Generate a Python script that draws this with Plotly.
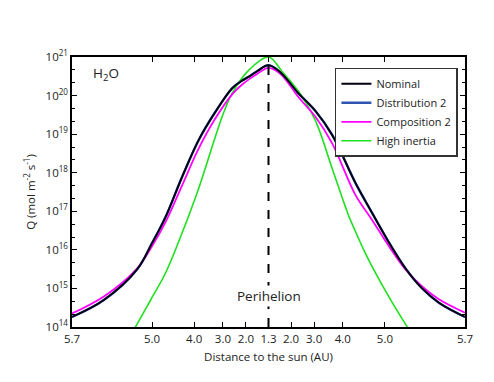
import numpy as np
import plotly.graph_objects as go

# orbit: perihelion / aphelion distance (AU)
q_peri = 1.3
q_aph = 5.7

# x = fraction of half orbit from perihelion (-1 = aphelion before, +1 = aphelion after)
phase_nominal = [-1.0, -0.838, -0.668, -0.592, -0.524, -0.439, -0.355, -0.270, -0.185, -0.140, -0.100, -0.058,
                 0.0, 0.061, 0.154, 0.239, 0.324, 0.443, 0.528, 0.612, 0.697, 0.782, 0.867, 1.0]
logq_nominal = [14.26, 14.70, 15.50, 16.18, 16.85, 17.90, 18.85, 19.58, 20.19, 20.37, 20.49, 20.63,
                20.79, 20.60, 20.05, 19.60, 18.98, 17.73, 16.95, 16.20, 15.52, 15.00, 14.63, 14.26]

# Distribution 2 lies on top of the nominal curve
phase_dist2 = list(phase_nominal)
logq_dist2 = list(logq_nominal)

phase_comp2 = [-1.0, -0.838, -0.668, -0.592, -0.524, -0.439, -0.355, -0.270, -0.185, -0.140, -0.100, -0.058,
               0.0, 0.061, 0.154, 0.239, 0.324, 0.443, 0.528, 0.612, 0.697, 0.782, 0.867, 1.0]
logq_comp2 = [14.35, 14.79, 15.52, 16.10, 16.72, 17.68, 18.63, 19.41, 20.03, 20.26, 20.42, 20.56,
              20.72, 20.56, 19.95, 19.45, 18.76, 17.42, 16.77, 16.10, 15.49, 15.05, 14.72, 14.37]

phase_inertia = [-0.76, -0.677, -0.600, -0.524, -0.439, -0.355, -0.270, -0.228, -0.185, -0.100,
                 0.0, 0.070, 0.154, 0.239, 0.324, 0.409, 0.443, 0.494, 0.528, 0.612, 0.706, 0.78]
logq_inertia = [13.30, 14.0, 14.70, 15.40, 16.45, 17.60, 18.94, 19.56, 20.06, 20.66,
                21.0, 20.62, 20.10, 19.35, 18.11, 16.87, 16.47, 15.90, 15.56, 14.79, 14.0, 13.40]

dist_ticks = [5.7, 5.0, 4.0, 3.0, 2.0, 1.3, 2.0, 3.0, 4.0, 5.0, 5.7]
dist_side = [-1, -1, -1, -1, -1, 0, 1, 1, 1, 1, 1]
q_exponents = [14, 15, 16, 17, 18, 19, 20, 21]


def orbit_phase(r):
    # Kepler: distance -> mean anomaly / pi
    a = (q_peri + q_aph) / 2
    e = (q_aph - q_peri) / (q_aph + q_peri)
    E = np.arccos(np.clip((1 - r / a) / e, -1, 1))
    return (E - e * np.sin(E)) / np.pi


tickvals = [s * orbit_phase(r) for r, s in zip(dist_ticks, dist_side)]
ticktext = [f'{r:.1f}' for r in dist_ticks]

fig = go.Figure()

spline = dict(shape='spline', smoothing=1.0)
fig.add_trace(go.Scatter(x=phase_dist2, y=10.0 ** np.array(logq_dist2), mode='lines', name='Distribution 2',
                         line=dict(color='#2f55b0', width=2.4, **spline), legendrank=2))
fig.add_trace(go.Scatter(x=phase_inertia, y=10.0 ** np.array(logq_inertia), mode='lines', name='High inertia',
                         line=dict(color='#1fe01f', width=1.6, **spline), legendrank=4))
fig.add_trace(go.Scatter(x=phase_comp2, y=10.0 ** np.array(logq_comp2), mode='lines', name='Composition 2',
                         line=dict(color='#ff00ff', width=1.8, **spline), legendrank=3))
fig.add_trace(go.Scatter(x=phase_nominal, y=10.0 ** np.array(logq_nominal), mode='lines', name='Nominal',
                         line=dict(color='#000010', width=1.9, **spline), legendrank=1))

# perihelion marker
fig.add_shape(type='line', x0=0, x1=0, xref='x', y0=0, y1=1, yref='paper',
              line=dict(color='black', width=2, dash='dash'), layer='above')
fig.add_annotation(x=0, y=14.8, xref='x', yref='y', text='Perihelion', showarrow=False,
                   font=dict(size=13.5, color='#222'), bgcolor='white')
fig.add_annotation(x=0.048, y=0.98, xref='paper', yref='paper', text='H<sub>2</sub>O', showarrow=False,
                   xanchor='left', yanchor='top', font=dict(size=13.5, color='#222'))

# page body adds 8px offset, so figure is slightly smaller than the window
fig.update_layout(
    width=486, height=374,
    margin=dict(l=64, r=29, t=49, b=55, autoexpand=False),
    plot_bgcolor='white',
    paper_bgcolor='white',
    font=dict(family='Open Sans', size=11.5, color='#222'),
    showlegend=True,
    legend=dict(x=0.982, y=0.96, xanchor='right', yanchor='top', bordercolor='#333', borderwidth=1.5,
                bgcolor='white', font=dict(size=11), tracegroupgap=0),
    xaxis=dict(range=[-1, 1], tickmode='array', tickvals=tickvals, ticktext=ticktext, tickangle=0,
               automargin=False,
               showline=True, linecolor='black', linewidth=1.5, mirror='allticks',
               ticks='inside', ticklen=5, tickcolor='black', showgrid=False, zeroline=False,
               title=dict(text='Distance to the sun (AU)', font=dict(size=11.5), standoff=8)),
    yaxis=dict(type='log', range=[14, 21], tickmode='array',
               tickvals=[10.0 ** k for k in q_exponents],
               ticktext=[f'10<sup>{k}</sup>' for k in q_exponents],
               automargin=False,
               showline=True, linecolor='black', linewidth=1.5, mirror='allticks',
               ticks='inside', ticklen=5, tickcolor='black', showgrid=False, zeroline=False,
               minor=dict(ticks='inside', ticklen=3, tickcolor='black', tickmode='array',
                          tickvals=[10 ** (k + f) for k in range(14, 21) for f in (1 / 3, 2 / 3)]),
               title=dict(text='Q (mol m<sup>-2</sup> s<sup>-1</sup>)', font=dict(size=11.5), standoff=8)),
)

fig.write_html('out.html')
